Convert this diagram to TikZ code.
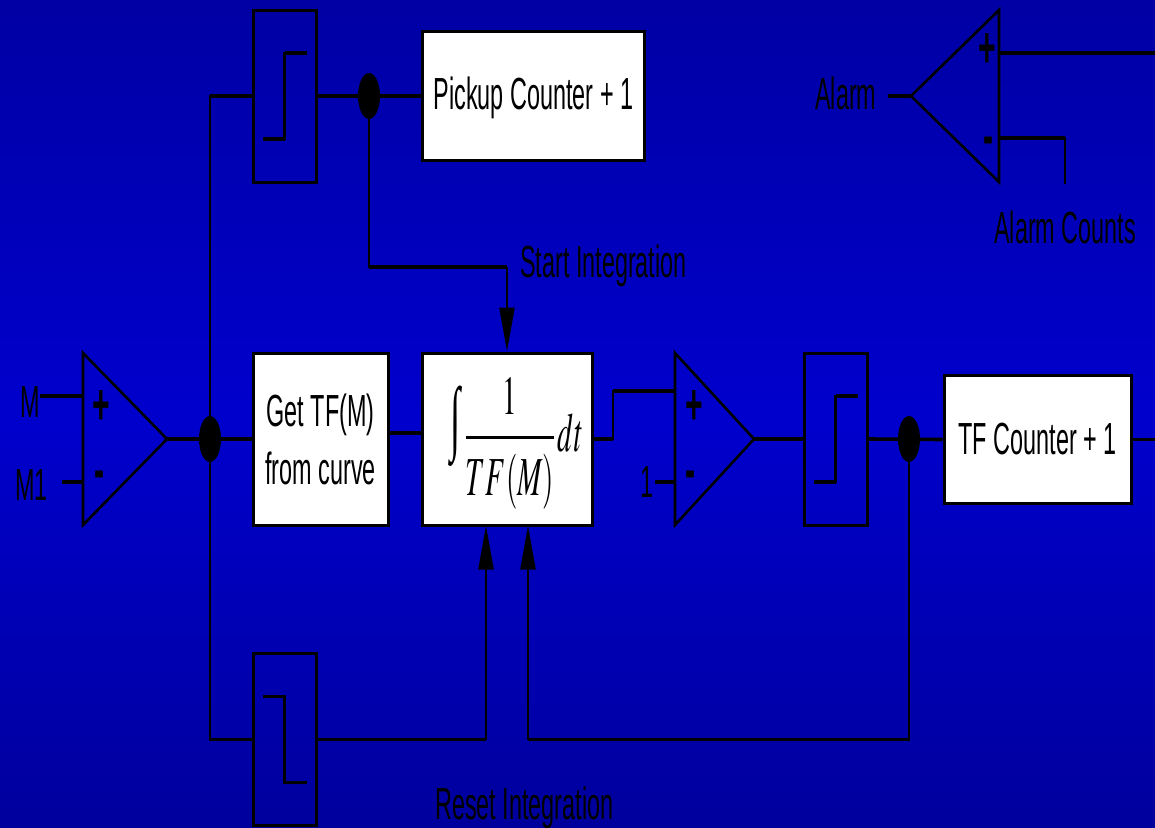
\documentclass[tikz,border=0pt]{standalone}
\usepackage{mathptmx}
\usepackage[no-math]{fontspec}
\usepackage{graphicx}
\setmainfont[FakeStretch=0.52]{Liberation Sans}
\newfontfamily\intfont[FakeStretch=0.45]{Liberation Serif}
\usetikzlibrary{arrows.meta}
\usetikzlibrary{shapes.geometric}
\definecolor{bgtop}{RGB}{0,0,164}
\definecolor{bgmid}{RGB}{0,0,205}
\definecolor{bgbot}{RGB}{0,0,156}
\begin{document}
\begin{tikzpicture}[x=1pt, y=-1pt]
  \tikzset{
    every node/.style={inner sep=0pt, font=\fontsize{45}{58}\selectfont},
    block/.style={draw, fill=white, line width=3pt, align=center, minimum width=#1},
    trig/.style={draw, line width=3pt, minimum width=\TW pt, minimum height=\BH pt},
    dot/.style={ellipse, fill=black, minimum width=22pt, minimum height=46pt},
    hw/.style={line width=3.6pt},
    vw/.style={line width=2.4pt, line cap=rect},
    amp/.style={line width=2.6pt, line join=miter},
    into/.style={line width=2.4pt, -{Triangle[length=44pt, width=15pt]}},
    sign/.style={font=\fontsize{58}{60}\selectfont\bfseries}
  }

  \def\BH{172}
  \def\TW{63}

  \useasboundingbox (0,0) rectangle (1155,827);
  \fill[bgtop] (0,0) rectangle (1160,832);
  \foreach \i in {1,...,50}{
    \pgfmathsetmacro\p{2*\i}
    \fill[bgmid!\p!bgtop] (0,\i*8.27) rectangle (1160,832);
  }
  \foreach \i in {1,...,50}{
    \pgfmathsetmacro\p{2*\i}
    \fill[bgbot!\p!bgmid] (0,413.5+\i*8.27) rectangle (1160,832);
  }

  \node[block=222pt, minimum height=129pt, text depth=5pt] (pickup) at (533.5,96) {Pickup Counter + 1};
  \node[block=187pt, minimum height=128pt] (tfcount) at (1037.5,439.5) {TF Counter + 1};
  \node[block=135pt, minimum height=\BH pt] (gettf) at (320.5,439) {Get TF(M)\\from curve};
  \node[block=170pt, minimum height=\BH pt] (integ) at (507,439) {};
  \node[anchor=base] (integsign) at (456,444) {\intfont\fontsize{82}{82}\selectfont ∫};
  \node[anchor=west] (integfrac) at (465,443) {\scalebox{0.53}[1]{\fontsize{55}{60}\selectfont$\displaystyle\frac{1}{\raisebox{-6pt}{$TF(M)$}}\,dt$}};

  \node[trig] (trigpick) at (284.5,96) {};
  \node[trig] (trigtf) at (835.5,439) {};
  \node[trig] (trigreset) at (284.5,739.5) {};
  \foreach \nn/\sgn in {trigpick/1,trigtf/1,trigreset/-1}{
    \draw[hw] ([shift={(-22,\sgn*43)}]\nn.center) -- ++(22,0);
    \draw[vw] ([shift={(0,\sgn*43)}]\nn.center) -- ++(0,-\sgn*86);
    \draw[hw] ([shift={(0,-\sgn*43)}]\nn.center) -- ++(22,0);
  }

  \draw[amp] (83,353) -- (83,525) -- (167,439) coordinate (ampmain) -- cycle;
  \draw[amp] (675,353) -- (675,525) -- (754,439) coordinate (ampone) -- cycle;
  \draw[amp] (999,10) -- (999,182) -- (911,96) coordinate (ampalarm) -- cycle;

  \node[sign] (mainplus) at (101,407) {+};
  \node[sign] (mainminus) at (100,480) {-};
  \node[sign] (oneplus) at (694,407) {+};
  \node[sign] (oneminus) at (691,480) {-};
  \node[sign] (alarmplus) at (987,50) {+};
  \node[sign] (alarmminus) at (989,146) {-};

  \node[anchor=base west] (lblm) at (20,417) {M};
  \node[anchor=base west] (lblmone) at (15,500) {M1};
  \node[anchor=base west] (lblone) at (640,497) {1};
  \node[anchor=base west] (lblalarm) at (815,109) {Alarm};
  \node[anchor=base west] (lblcounts) at (994,243) {Alarm Counts};
  \node[anchor=base west] (lblstart) at (520,277) {Start Integration};
  \node[anchor=base west] (lblreset) at (435,819) {Reset Integration};

  \coordinate (mainp) at (83,396);
  \coordinate (mainm) at (83,482);
  \coordinate (onep) at (675,391);
  \coordinate (onem) at (675,482);
  \coordinate (alarmp) at (999,53);
  \coordinate (alarmm) at (999,138);
  \coordinate (tap) at (210,439);
  \coordinate (tfin) at (909,439);
  \coordinate (intin) at (422,433);
  \coordinate (outbend) at (613,439);
  \coordinate (countbend) at (1065,138);
  \coordinate (pickdot) at (369,96);
  \coordinate (startbend) at (369,267);
  \coordinate (fbbend) at (909,739.5);
  \coordinate (fbtop) at (528,739.5);

  \draw[hw] (lblm.east |- mainp) -- (mainp);
  \draw[hw] (62,482) coordinate (mfree) -- (mainm);
  \draw[hw] (655,482) coordinate (onefree) -- (onem);
  \draw[hw] (888,96) coordinate (alarmfree) -- (ampalarm);
  \draw[hw] (alarmp) -- (1155,53) coordinate (alarmend);
  \draw[hw] (alarmm) -- (countbend);
  \draw[vw] (countbend) -- (1065,183) coordinate (countsend);

  \draw[hw] (ampmain) -- (gettf.west);
  \draw[hw] (gettf.east |- intin) -- (intin);
  \draw[hw] (integ.east) -- (outbend);
  \draw[vw] (outbend) -- (outbend |- onep);
  \draw[hw] (outbend |- onep) -- (onep);
  \draw[hw] (ampone) -- (trigtf.west);
  \draw[hw] (trigtf.east) -- (tfcount.west);
  \draw[hw] (tfcount.east) -- (1155,439.5) coordinate (tfend);
  \draw[hw] (trigpick.east) -- (pickup.west);
  \draw[hw] (trigpick.west) -- (tap |- trigpick.west);
  \draw[vw] (tap |- trigpick.west) -- (tap);
  \draw[vw] (tap) -- (tap |- trigreset.west);
  \draw[hw] (tap |- trigreset.west) -- (trigreset.west);

  \draw[vw] (pickdot) -- (startbend);
  \draw[hw] (startbend) -- (integ.north |- startbend);
  \draw[into] (integ.north |- startbend) -- (integ.north);
  \draw[hw] (trigreset.east) -- (486,739.5) coordinate (resetbend);
  \draw[into] (resetbend) -- (486,525.5) coordinate (intega);
  \draw[vw] (tfin) -- (fbbend);
  \draw[hw] (fbbend) -- (fbtop);
  \draw[into] (fbtop) -- (528,525.5) coordinate (integb);

  \node[dot] (dotmain) at (tap) {};
  \node[dot] (dotpick) at (pickdot) {};
  \node[dot] (dottf) at (tfin) {};
\end{tikzpicture}
\end{document}
